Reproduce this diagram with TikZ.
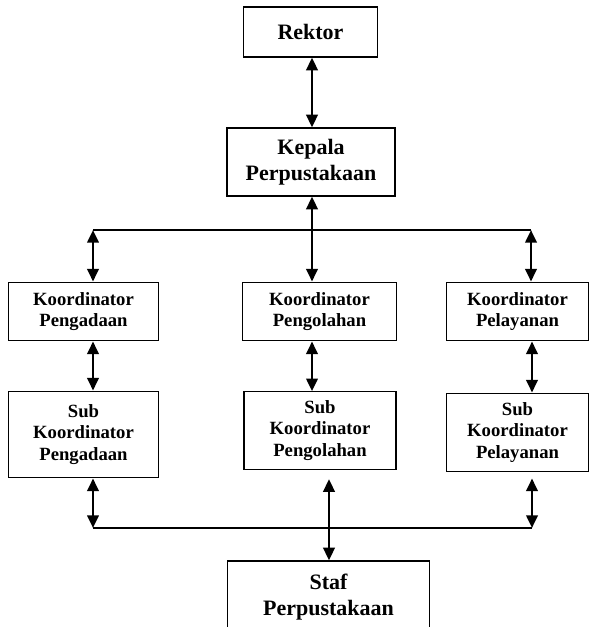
\documentclass[tikz,border=0pt]{standalone}
\usepackage{fontspec}
\setmainfont{Liberation Serif}
\usetikzlibrary{arrows.meta}

\tikzset{
  box/.style={rectangle, draw, line width=0.9pt, inner sep=0pt, align=center,
    font=\bfseries\fontsize{14}{16}\selectfont},
  bigbox/.style={box, font=\bfseries\fontsize{16.5}{19.8}\selectfont},
  arr/.style={{Triangle[length=9.5pt,width=8.5pt]}-{Triangle[length=9.5pt,width=8.5pt]}, line width=2pt},
  line/.style={line width=1.2pt}
}

\begin{document}
\begin{tikzpicture}[x=0.75pt, y=-0.75pt]
      \useasboundingbox (0,0) rectangle (590,627);
      \clip (0,0) rectangle (590,627);

      \node[bigbox, minimum width=101pt, minimum height=37.5pt] (rektor) at (310.5,32) {Rektor};
      \node[bigbox, minimum width=126pt, minimum height=51pt] (kepala) at (311,162) {Kepala\\Perpustakaan};

      \node[box, minimum width=113pt, minimum height=44pt] (kpengad) at (83.5,311.5) {Koordinator\\Pengadaan};
      \node[box, minimum width=115pt, minimum height=44pt] (kpengol) at (319.5,311.5) {Koordinator\\Pengolahan};
      \node[box, minimum width=107pt, minimum height=44pt] (kpel) at (517.5,311.5) {Koordinator\\Pelayanan};

      \node[box, minimum width=113pt, minimum height=65pt] (spengad) at (83.5,434.5) {Sub\\Koordinator\\Pengadaan};
      \node[box, minimum width=114pt, minimum height=58pt] (spengol) at (320,430.5) {Sub\\Koordinator\\Pengolahan};
      \node[box, minimum width=107pt, minimum height=59pt] (spel) at (517.5,432.5) {Sub\\Koordinator\\Pelayanan};

      \node[bigbox, minimum width=152pt, minimum height=54pt] (staf) at (328.5,597) {Staf\\Perpustakaan};

      \coordinate (ta) at (93,230);
      \coordinate (tb) at (312,230);
      \coordinate (tc) at (531,230);
      \coordinate (ba) at (93,528);
      \coordinate (bb) at (329,528);
      \coordinate (bc) at (532,528);

      \draw[arr] (rektor.south -| tb) -- (kepala.north -| tb);
      \draw[line] (ta) -- (tc);
      \draw[arr] (kepala.south -| tb) -- (kpengol.north -| tb);
      \draw[arr] (ta) -- (kpengad.north -| ta);
      \draw[arr] (tc) -- (kpel.north -| tc);

      \draw[arr] (kpengad.south -| ta) -- (spengad.north -| ta);
      \draw[arr] (kpengol.south -| tb) -- (spengol.north -| tb);
      \draw[arr] (kpel.south -| bc) -- (spel.north -| bc);

      \draw[line] (ba) -- (bc);
      \draw[arr] (spengad.south -| ba) -- (ba);
      \draw[arr, shorten <=7pt] (spengol.south -| bb) -- (staf.north -| bb);
      \draw[arr, shorten <=4.5pt] (spel.south -| bc) -- (bc);
    \end{tikzpicture}
\end{document}
